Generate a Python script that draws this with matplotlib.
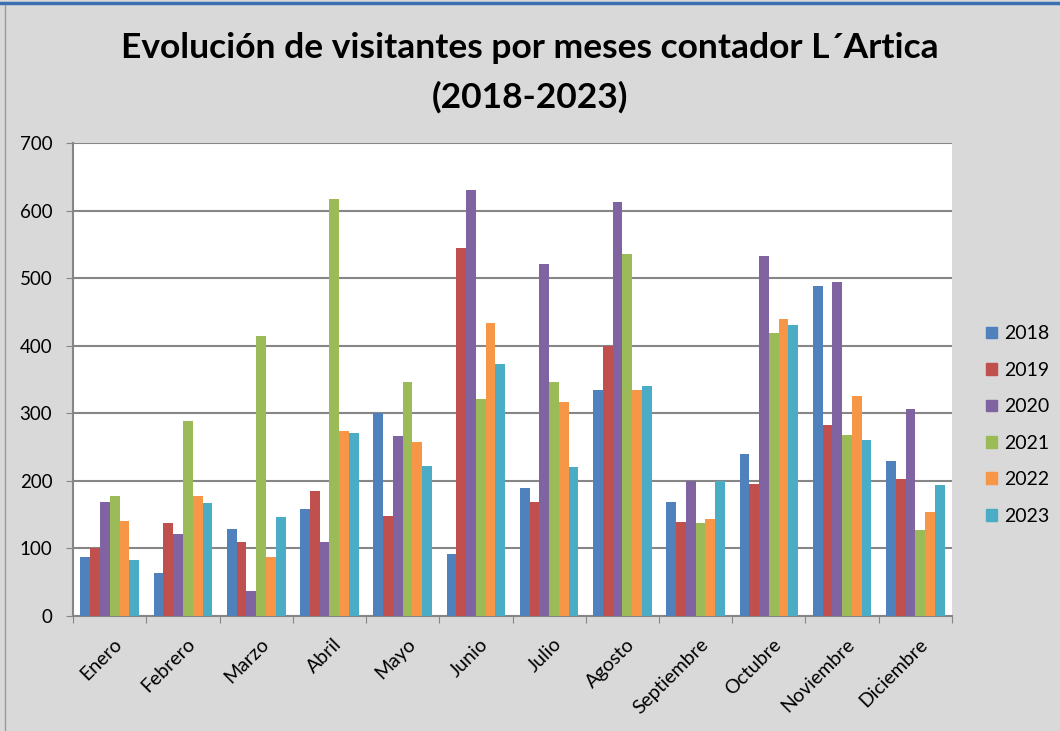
import numpy as np
import matplotlib.pyplot as plt
from matplotlib.patches import Rectangle
from matplotlib.lines import Line2D

months = ["Enero", "Febrero", "Marzo", "Abril", "Mayo", "Junio", "Julio",
          "Agosto", "Septiembre", "Octubre", "Noviembre", "Diciembre"]
years = ["2018", "2019", "2020", "2021", "2022", "2023"]
v2018 = [88, 63, 129, 159, 300, 92, 190, 335, 168, 240, 489, 230]
v2019 = [101, 137, 109, 185, 148, 545, 168, 399, 139, 195, 282, 203]
v2020 = [168, 122, 37, 110, 266, 630, 521, 612, 200, 533, 495, 307]
v2021 = [177, 289, 414, 617, 347, 321, 347, 535, 138, 419, 268, 128]
v2022 = [141, 178, 87, 274, 257, 433, 317, 335, 144, 439, 326, 154]
v2023 = [83, 167, 146, 271, 222, 373, 221, 341, 200, 431, 261, 194]
colors = ["#4F81BD", "#C0504D", "#8064A2", "#9BBB59", "#F79646", "#4BACC6"]

plt.rcParams['font.family'] = ['Lato', 'DejaVu Sans']

fig = plt.figure(figsize=(10.6, 7.31), dpi=100)
fig.patch.set_facecolor("#d9d9d9")
# outer frame lines
fig.add_artist(Line2D([0, 1], [0.996, 0.996], color="#3a6fb0", lw=2.5))
fig.add_artist(Line2D([0.005, 0.005], [0, 0.993], color="#9a9a9a", lw=1))

ax = fig.add_axes([0.069, 0.1573, 0.829, 0.6471])
ax.set_facecolor("white")

series = [v2018, v2019, v2020, v2021, v2022, v2023]
x = np.arange(len(months))
w = 0.8 / len(series)
for i, (vals, c, y) in enumerate(zip(series, colors, years)):
    ax.bar(x - 0.4 + w * (i + 0.5), vals, width=w, color=c, label=y, zorder=3)

ax.set_xlim(-0.5, len(months) - 0.5)
ax.set_ylim(0, 700)
ax.set_yticks(range(0, 701, 100))
ax.yaxis.grid(True, color="#868686", lw=1.5, zorder=0)
ax.set_xticks(np.arange(len(months) + 1) - 0.5, minor=False)
ax.set_xticklabels([])
ax.set_xticks(x + 0.05, minor=True)
ax.set_xticklabels(months, minor=True, rotation=45, ha="right",
                   rotation_mode="anchor", fontsize=14)
ax.tick_params(axis="x", which="minor", length=0, pad=14)
ax.tick_params(axis="x", which="major", length=5, color="#868686")
ax.tick_params(axis="y", length=5, color="#868686", labelsize=13.5, pad=10)
for s in ["top", "right"]:
    ax.spines[s].set_visible(False)
for s in ["left", "bottom"]:
    ax.spines[s].set_color("#868686")
    ax.spines[s].set_linewidth(1.5)

fig.text(0.5, 0.935, "Evolución de visitantes por meses contador L´Artica",
         ha="center", va="center", fontsize=25.5, fontweight="bold")
fig.text(0.5, 0.867, "(2018-2023)", ha="center", va="center",
         fontsize=25.5, fontweight="bold")

handles = [Rectangle((0, 0), 1, 1, color=c) for c in colors]
fig.legend(handles, years, loc="center left", bbox_to_anchor=(0.914, 0.4186),
           frameon=False, fontsize=14, handlelength=0.55, handleheight=0.55,
           handletextpad=0.35, labelspacing=1.0)

fig.savefig("out.png", dpi=100, facecolor=fig.get_facecolor())
